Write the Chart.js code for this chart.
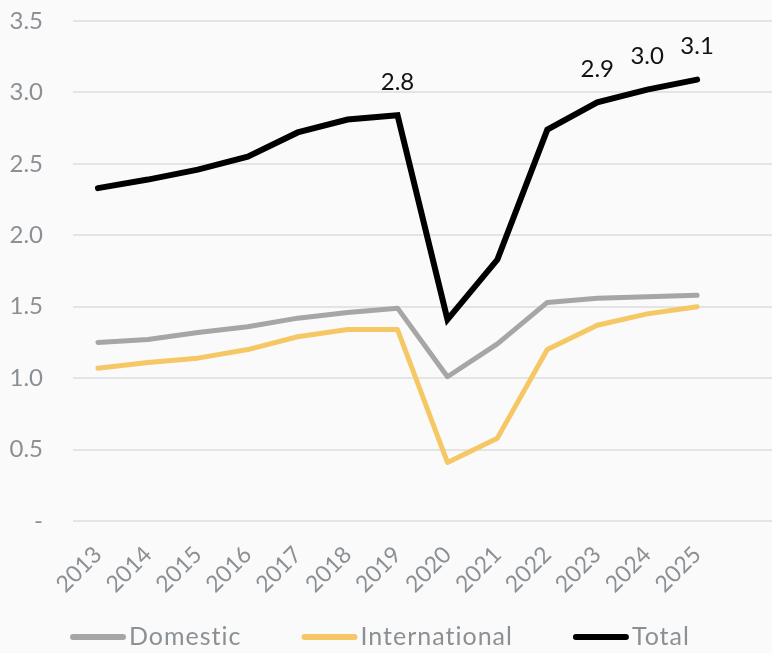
<!DOCTYPE html>
<html>
<head>
<meta charset="utf-8">
<script src="https://cdn.jsdelivr.net/npm/chart.js@4.4.1/dist/chart.umd.min.js"></script>
<style>
  html, body { margin: 0; padding: 0; background: #fafafa; }
  #wrap { width: 772px; height: 653px; }
</style>
</head>
<body>
<div id="wrap"><canvas id="c" width="772" height="653"></canvas></div>
<script>
// Passenger volumes by year (billions)
const years = ['2013','2014','2015','2016','2017','2018','2019','2020','2021','2022','2023','2024','2025',''];
const domestic      = [1.25, 1.27, 1.32, 1.36, 1.42, 1.46, 1.49, 1.01, 1.24, 1.53, 1.56, 1.57, 1.58];
const international = [1.07, 1.11, 1.14, 1.20, 1.29, 1.34, 1.34, 0.41, 0.58, 1.20, 1.37, 1.45, 1.50];
const total         = [2.33, 2.39, 2.46, 2.55, 2.72, 2.81, 2.84, 1.41, 1.83, 2.74, 2.93, 3.02, 3.09];
// Years whose total gets a value label
const labeledYears = ['2019', '2023', '2024', '2025'];

const FONT = 'Lato, "Open Sans", sans-serif';
const GREY_TEXT = '#8b9095';

// Draws value labels above selected points of the Total line
const totalLabels = {
  id: 'totalLabels',
  afterDatasetsDraw(chart) {
    const ctx = chart.ctx;
    const meta = chart.getDatasetMeta(2);
    ctx.save();
    ctx.font = '24px ' + FONT;
    ctx.fillStyle = '#111';
    ctx.textAlign = 'center';
    ctx.textBaseline = 'middle';
    labeledYears.forEach(y => {
      const i = years.indexOf(y);
      const pt = meta.data[i];
      ctx.fillText(total[i].toFixed(1), pt.x, pt.y - 33);
    });
    ctx.restore();
  }
};

// Legend row along the bottom: line swatch followed closely by the series name
const lineLegend = {
  id: 'lineLegend',
  afterDraw(chart) {
    const ctx = chart.ctx;
    const ds = chart.data.datasets;
    const y = chart.height - 16;
    const swatch = 56, gap = 3, spacing = 60;
    ctx.save();
    ctx.font = '25px ' + FONT;
    ctx.letterSpacing = '1px';
    ctx.textBaseline = 'middle';
    ctx.textAlign = 'left';
    let x = 70;
    ds.forEach(d => {
      ctx.strokeStyle = d.borderColor;
      ctx.lineWidth = 6;
      ctx.lineCap = 'round';
      ctx.beginPath();
      ctx.moveTo(x + 3, y);
      ctx.lineTo(x + swatch - 3, y);
      ctx.stroke();
      ctx.fillStyle = GREY_TEXT;
      ctx.fillText(d.label, x + swatch + gap, y);
      x += swatch + gap + ctx.measureText(d.label).width + spacing;
    });
    ctx.restore();
  }
};

new Chart(document.getElementById('c'), {
  type: 'line',
  data: {
    labels: years,
    datasets: [
      { label: 'Domestic', data: domestic, borderColor: '#a6a6a6', backgroundColor: '#a6a6a6',
        borderWidth: 5, borderCapStyle: 'round', borderJoinStyle: 'round', pointRadius: 0, tension: 0 },
      { label: 'International', data: international, borderColor: '#f5c865', backgroundColor: '#f5c865',
        borderWidth: 5, borderCapStyle: 'round', borderJoinStyle: 'round', pointRadius: 0, tension: 0 },
      { label: 'Total', data: total, borderColor: '#000000', backgroundColor: '#000000',
        borderWidth: 6, borderCapStyle: 'round', borderJoinStyle: 'miter', pointRadius: 0, tension: 0 }
    ]
  },
  options: {
    responsive: false,
    animation: false,
    devicePixelRatio: 1,
    layout: { padding: { top: 21, right: 0, left: 0, bottom: 32 } },
    scales: {
      x: {
        offset: true,
        grid: { display: false },
        border: { display: false },
        ticks: {
          color: GREY_TEXT, font: { family: FONT, size: 23 },
          minRotation: 45, maxRotation: 45, autoSkip: false, padding: 12
        },
        afterFit(scale) { scale.paddingLeft = 0; scale.paddingRight = 0; scale.height = 100; }
      },
      y: {
        min: 0, max: 3.5,
        grid: { color: '#e4e4e4', lineWidth: 2, drawTicks: false },
        border: { display: false },
        ticks: {
          stepSize: 0.5, color: GREY_TEXT, font: { family: FONT, size: 24 }, padding: 30,
          callback: v => v === 0 ? '-' : v.toFixed(1)
        },
        afterFit(scale) { scale.paddingTop = 0; scale.paddingBottom = 0; scale.width = 73; }
      }
    },
    plugins: {
      tooltip: { enabled: false },
      legend: { display: false }
    }
  },
  plugins: [totalLabels, lineLegend]
});
</script>
</body>
</html>
